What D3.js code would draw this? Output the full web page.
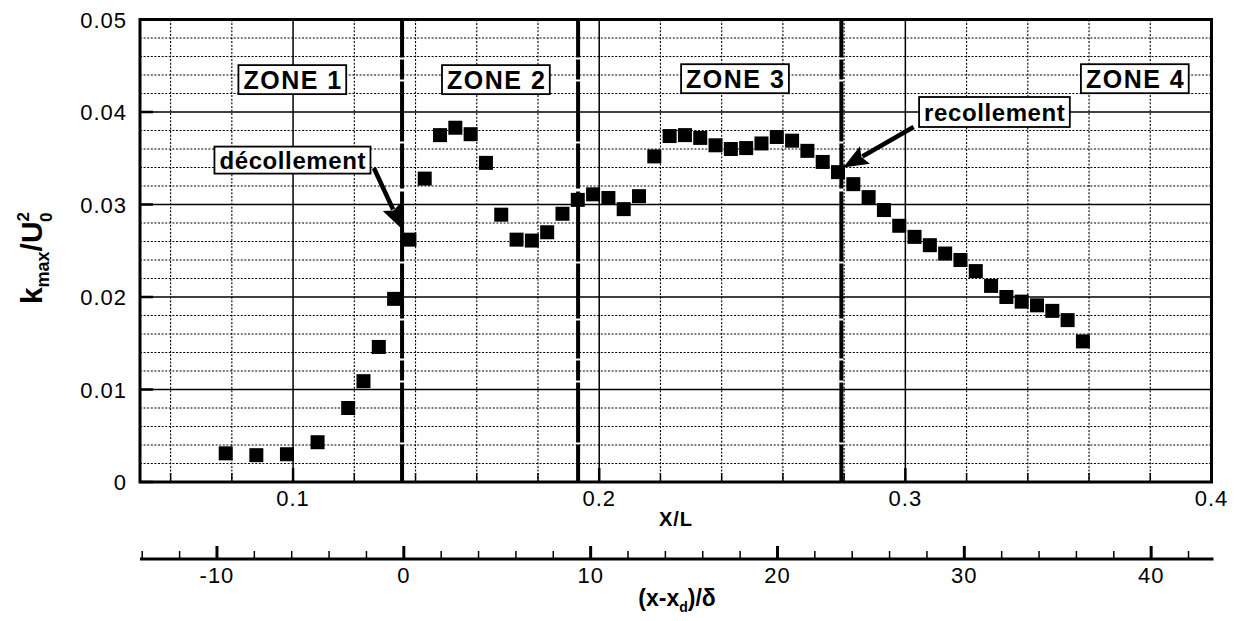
<!DOCTYPE html>
<html>
<head>
<meta charset="utf-8">
<script src="https://cdn.jsdelivr.net/npm/d3@7"></script>
<style>
  html, body { margin: 0; padding: 0; background: #fff; }
  svg { display: block; }
  text { font-family: "Liberation Sans", Arial, Helvetica, sans-serif; fill: #000; }
</style>
</head>
<body>
<svg id="chart" width="1236" height="621"></svg>
<script>
// ---------- data ----------
const xL = [0.078, 0.088, 0.098, 0.108, 0.118, 0.123, 0.128, 0.133, 0.138, 0.143,
            0.148, 0.153, 0.158, 0.163, 0.168, 0.173, 0.178, 0.183, 0.188, 0.193,
            0.198, 0.203, 0.208, 0.213, 0.218, 0.223, 0.228, 0.233, 0.238, 0.243,
            0.248, 0.253, 0.258, 0.263, 0.268, 0.273, 0.278, 0.283, 0.288, 0.293,
            0.298, 0.303, 0.308, 0.313, 0.318, 0.323, 0.328, 0.333, 0.338, 0.343,
            0.348, 0.353, 0.358];
const kmax = [0.0031, 0.0029, 0.0030, 0.0043, 0.0080, 0.0109, 0.0146, 0.0198, 0.0262, 0.0328,
              0.0375, 0.0383, 0.0376, 0.0345, 0.0289, 0.0262, 0.0261, 0.0270, 0.0290, 0.0305,
              0.0311, 0.0307, 0.0295, 0.0309, 0.0352, 0.0374, 0.0375, 0.0372, 0.0364, 0.0360,
              0.0361, 0.0366, 0.0373, 0.0369, 0.0358, 0.0346, 0.0335, 0.0322, 0.0308, 0.0294,
              0.0277, 0.0265, 0.0256, 0.0247, 0.0240, 0.0228, 0.0212, 0.0200, 0.0195, 0.0191,
              0.0185, 0.0175, 0.0152];

const xTicks = [0.1, 0.2, 0.3, 0.4];
const xTickLabels = ["0.1", "0.2", "0.3", "0.4"];
const xMinor = [0.06, 0.08, 0.12, 0.14, 0.16, 0.18, 0.22, 0.24, 0.26, 0.28, 0.32, 0.34, 0.36, 0.38];
const yTicks = [0, 0.01, 0.02, 0.03, 0.04, 0.05];
const yTickLabels = ["0", "0.01", "0.02", "0.03", "0.04", "0.05"];
const x2Ticks = [-10, 0, 10, 20, 30, 40];
const x2TickLabels = ["-10", "0", "10", "20", "30", "40"];
const zoneBounds = [0.1356, 0.1931, 0.2791];
const zoneNames = ["ZONE 1", "ZONE 2", "ZONE 3", "ZONE 4"];
const zoneLabelX = [0.1, 0.1665, 0.2446, 0.3752];
const zoneLabelY = [0.0435, 0.0435, 0.0436, 0.0436];
const annotNames = ["décollement", "recollement"];
const annotBox = [[0.0999, 0.0348], [0.3292, 0.0400]];
const annotFrom = [[0.1264, 0.03395], [0.3027, 0.03838]];
const annotTo = [[0.1357, 0.02730], [0.2797, 0.03400]];

// ---------- layout ----------
const svg = d3.select("#chart");
const L = 140, R = 1211.5, T = 19.5, B = 482;
const x = d3.scaleLinear().domain([0.05, 0.4]).range([L, R]);
const y = d3.scaleLinear().domain([0, 0.05]).range([B, T]);
const x2 = d3.scaleLinear().domain([-14.12, 43.23]).range([L, R]);
const axis2Y = 559;

const g = svg.append("g");

// minor horizontal grid
const yMinor = d3.range(1, 25).map(i => i * 0.002).filter(v => Math.abs(v * 100 - Math.round(v * 100)) > 1e-6);
g.selectAll("line.ymin").data(yMinor).enter().append("line")
  .attr("x1", L).attr("x2", R).attr("y1", d => y(d)).attr("y2", d => y(d))
  .attr("stroke", "#000").attr("stroke-width", 1.1).attr("stroke-dasharray", "2,1.6");
// minor vertical grid
g.selectAll("line.xmin").data(xMinor).enter().append("line")
  .attr("y1", T).attr("y2", B).attr("x1", d => x(d)).attr("x2", d => x(d))
  .attr("stroke", "#000").attr("stroke-width", 1.1).attr("stroke-dasharray", "2,1.6");
// major grid
g.selectAll("line.ymaj").data(yTicks.slice(1, 5)).enter().append("line")
  .attr("x1", L).attr("x2", R).attr("y1", d => y(d)).attr("y2", d => y(d))
  .attr("stroke", "#000").attr("stroke-width", 1.5);
g.selectAll("line.xmaj").data(xTicks.slice(0, 3)).enter().append("line")
  .attr("y1", T).attr("y2", B).attr("x1", d => x(d)).attr("x2", d => x(d))
  .attr("stroke", "#000").attr("stroke-width", 1.5);

// tick marks on frame
g.selectAll("line.bmin").data(xMinor).enter().append("line")
  .attr("x1", d => x(d)).attr("x2", d => x(d)).attr("y1", B).attr("y2", B - 9)
  .attr("stroke", "#000").attr("stroke-width", 1.5);
g.selectAll("line.bmaj").data(xTicks).enter().append("line")
  .attr("x1", d => x(d)).attr("x2", d => x(d)).attr("y1", B).attr("y2", B - 14)
  .attr("stroke", "#000").attr("stroke-width", 2.5);
g.selectAll("line.lmaj").data(yTicks).enter().append("line")
  .attr("x1", L).attr("x2", L + 13).attr("y1", d => y(d)).attr("y2", d => y(d))
  .attr("stroke", "#000").attr("stroke-width", 2.5);

// zone boundaries
g.selectAll("line.zone").data(zoneBounds).enter().append("line")
  .attr("x1", d => x(d)).attr("x2", d => x(d)).attr("y1", T).attr("y2", B)
  .attr("stroke", "#000").attr("stroke-width", 4)
  .attr("stroke-dasharray", "38,2,20,2,60,2,45,3,70,2,55,2");

// frame
g.append("rect").attr("x", L).attr("y", T).attr("width", R - L).attr("height", B - T)
  .attr("fill", "none").attr("stroke", "#000").attr("stroke-width", 3);

// data markers
const ms = 14;
g.selectAll("rect.pt").data(xL.map((v, i) => [v, kmax[i]])).enter().append("rect")
  .attr("x", d => x(d[0]) - ms / 2).attr("y", d => y(d[1]) - ms / 2)
  .attr("width", ms).attr("height", ms).attr("fill", "#000");

// axis tick labels
g.selectAll("text.xt").data(xTicks).enter().append("text")
  .attr("x", d => x(d)).attr("y", 506).attr("text-anchor", "middle")
  .attr("font-size", 22).attr("letter-spacing", 1).text((d, i) => xTickLabels[i]);
g.selectAll("text.yt").data(yTicks).enter().append("text")
  .attr("x", 127).attr("y", d => y(d) + 8).attr("text-anchor", "end")
  .attr("font-size", 22).attr("letter-spacing", 1).text((d, i) => yTickLabels[i]);

// X/L title
g.append("text").attr("x", 676).attr("y", 526).attr("text-anchor", "middle")
  .attr("font-size", 20).attr("font-weight", "bold").attr("letter-spacing", 1).text("X/L");

// secondary axis
g.append("line").attr("x1", L).attr("x2", R + 2).attr("y1", axis2Y).attr("y2", axis2Y)
  .attr("stroke", "#000").attr("stroke-width", 3);
const x2Minor = d3.range(-14, 43, 2).filter(v => v % 10 !== 0);
g.selectAll("line.x2min").data(x2Minor).enter().append("line")
  .attr("x1", d => x2(d)).attr("x2", d => x2(d)).attr("y1", axis2Y).attr("y2", axis2Y - 8)
  .attr("stroke", "#000").attr("stroke-width", 1.5);
g.selectAll("line.x2maj").data(x2Ticks).enter().append("line")
  .attr("x1", d => x2(d)).attr("x2", d => x2(d)).attr("y1", axis2Y).attr("y2", axis2Y - 13)
  .attr("stroke", "#000").attr("stroke-width", 3);
g.selectAll("text.x2t").data(x2Ticks).enter().append("text")
  .attr("x", d => x2(d)).attr("y", 583).attr("text-anchor", "middle")
  .attr("font-size", 22).attr("letter-spacing", 1).text((d, i) => x2TickLabels[i]);
const t2 = g.append("text").attr("x", 677).attr("y", 606).attr("text-anchor", "middle")
  .attr("font-size", 23).attr("font-weight", "bold");
t2.append("tspan").text("(x-x");
t2.append("tspan").attr("font-size", 14).attr("dy", 6).text("d");
t2.append("tspan").attr("dy", -6).text(")/δ");

// Y title
const yt = g.append("text").attr("transform", "translate(42,258) rotate(-90)")
  .attr("text-anchor", "middle").attr("font-size", 30).attr("font-weight", "bold");
yt.append("tspan").text("k");
yt.append("tspan").attr("font-size", 18).attr("dy", 7).text("max");
yt.append("tspan").attr("dy", -7).text("/U");
yt.append("tspan").attr("font-size", 17).attr("dy", -13).text("2");
yt.append("tspan").attr("font-size", 17).attr("dx", -10).attr("dy", 23).text("0");

// boxed labels
function boxed(label, cx, cy, fs, ls, h) {
  const grp = g.append("g");
  const t = grp.append("text").attr("x", cx).attr("y", cy).attr("text-anchor", "middle")
    .attr("dominant-baseline", "central").attr("font-size", fs).attr("font-weight", "bold")
    .attr("letter-spacing", ls).text(label);
  const bb = t.node().getBBox();
  grp.insert("rect", "text").attr("x", bb.x - 5).attr("y", cy - h / 2)
    .attr("width", bb.width + 10 - ls).attr("height", h)
    .attr("fill", "#fff").attr("stroke", "#000").attr("stroke-width", 1.8);
}
zoneNames.forEach((n, i) => boxed(n, x(zoneLabelX[i]), y(zoneLabelY[i]), 25, 1.5, 29));

// arrows (shaft + explicit triangular head)
const headLen = 25, headHalf = 10;
annotNames.forEach((n, i) => {
  const x0 = x(annotFrom[i][0]), y0 = y(annotFrom[i][1]);
  const x1 = x(annotTo[i][0]), y1 = y(annotTo[i][1]);
  const len = Math.hypot(x1 - x0, y1 - y0);
  const ux = (x1 - x0) / len, uy = (y1 - y0) / len;
  const bx = x1 - ux * headLen, by = y1 - uy * headLen;
  g.append("line").attr("x1", x0).attr("y1", y0).attr("x2", bx + ux * 3).attr("y2", by + uy * 3)
    .attr("stroke", "#000").attr("stroke-width", 4.5);
  g.append("path")
    .attr("d", `M${x1},${y1} L${bx - uy * headHalf},${by + ux * headHalf} L${bx + ux * 4},${by + uy * 4} L${bx + uy * headHalf},${by - ux * headHalf} Z`)
    .attr("fill", "#000");
  boxed(n, x(annotBox[i][0]), y(annotBox[i][1]), 24, 0.6, i === 0 ? 27 : 30);
});
</script>
</body>
</html>
